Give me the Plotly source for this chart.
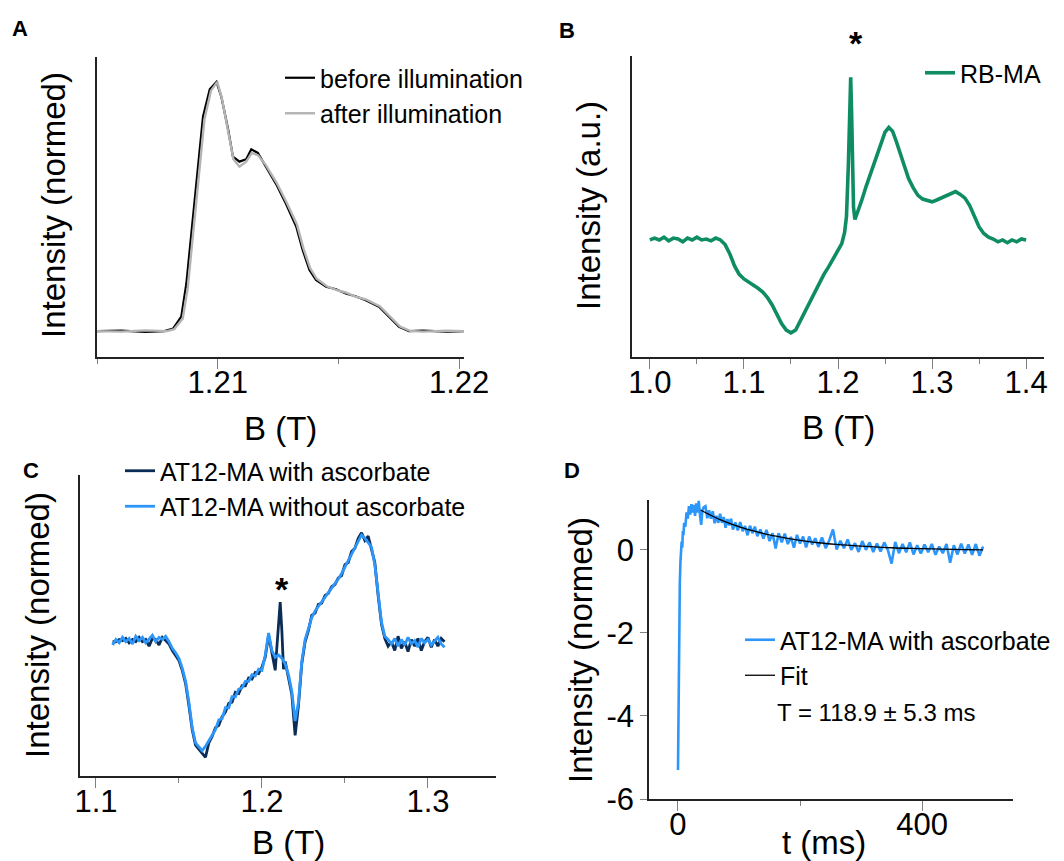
import plotly.graph_objects as go

# ---------------- Panel A data ----------------
a_before_x = [1.2050, 1.2060, 1.2070, 1.2078, 1.20815, 1.20849, 1.2087, 1.20891, 1.20912, 1.20939,
              1.20967, 1.20995, 1.21015, 1.21043, 1.21063, 1.2109, 1.21118, 1.21139, 1.21166, 1.2120,
              1.21242, 1.21283, 1.21325, 1.21352, 1.2138, 1.21407, 1.21449, 1.2149, 1.2153, 1.2157,
              1.21613, 1.21668, 1.2171, 1.21751, 1.21792, 1.2185, 1.2195, 1.2202]
a_before_y = [0.000, 0.002, -0.003, 0.000, 0.010, 0.058, 0.190, 0.390, 0.610, 0.860,
              0.970, 1.000, 0.940, 0.810, 0.700, 0.680, 0.690, 0.730, 0.715, 0.660,
              0.590, 0.510, 0.420, 0.325, 0.245, 0.205, 0.178, 0.168, 0.151, 0.140,
              0.124, 0.098, 0.058, 0.017, 0.000, 0.002, -0.002, 0.000]
a_after_x = [1.2050, 1.2060, 1.2070, 1.2079, 1.20820, 1.20855, 1.20876, 1.20897, 1.20918, 1.20945,
             1.20972, 1.20998, 1.21017, 1.21045, 1.21065, 1.2109, 1.21118, 1.21141, 1.21168, 1.2120,
             1.21244, 1.21286, 1.21328, 1.21355, 1.21383, 1.2141, 1.21452, 1.2149, 1.2153, 1.2157,
             1.21616, 1.21671, 1.21714, 1.21755, 1.21796, 1.2185, 1.2195, 1.2202]
a_after_y = [0.000, -0.002, 0.003, 0.000, 0.008, 0.050, 0.175, 0.375, 0.600, 0.850,
             0.965, 1.000, 0.935, 0.800, 0.690, 0.660, 0.680, 0.715, 0.705, 0.665,
             0.595, 0.515, 0.428, 0.332, 0.252, 0.210, 0.180, 0.165, 0.155, 0.138,
             0.126, 0.100, 0.060, 0.018, 0.001, -0.002, 0.002, 0.000]

# ---------------- Panel B data ----------------
b_x = [1.000, 1.005, 1.010, 1.015, 1.020, 1.025, 1.030, 1.035, 1.040, 1.045, 1.050, 1.055, 1.060,
       1.065, 1.070, 1.075, 1.080, 1.085, 1.090, 1.095, 1.100, 1.105, 1.110, 1.115, 1.120, 1.125,
       1.130, 1.135, 1.140, 1.145, 1.150, 1.155, 1.160, 1.165, 1.170, 1.175, 1.180, 1.185, 1.190,
       1.195, 1.200, 1.204, 1.207, 1.209, 1.211, 1.2125, 1.2135, 1.2145, 1.2155, 1.2165, 1.218,
       1.221, 1.225, 1.230, 1.235, 1.240, 1.245, 1.250, 1.254, 1.258, 1.262, 1.266, 1.270, 1.275,
       1.280, 1.285, 1.290, 1.295, 1.300, 1.305, 1.310, 1.315, 1.320, 1.325, 1.330, 1.335, 1.340,
       1.345, 1.350, 1.355, 1.360, 1.365, 1.370, 1.375, 1.380, 1.385, 1.390, 1.395, 1.400]
b_y = [0.00, 0.02, 0.00, 0.03, -0.01, 0.02, 0.01, -0.02, 0.02, 0.00, 0.03, 0.00, 0.01,
       -0.01, 0.02, 0.00, -0.05, -0.15, -0.28, -0.37, -0.42, -0.45, -0.48, -0.52, -0.56, -0.62,
       -0.70, -0.80, -0.90, -0.97, -1.00, -0.97, -0.87, -0.76, -0.66, -0.56, -0.46, -0.37, -0.29,
       -0.20, -0.11, -0.04, 0.08, 0.25, 0.80, 1.40, 1.75, 1.35, 0.70, 0.35, 0.22,
       0.30, 0.42, 0.58, 0.73, 0.88, 1.02, 1.16, 1.21, 1.17, 1.06, 0.93, 0.80, 0.66,
       0.56, 0.48, 0.44, 0.42, 0.41, 0.43, 0.45, 0.48, 0.50, 0.52, 0.49, 0.45, 0.37,
       0.25, 0.14, 0.07, 0.03, 0.01, -0.02, 0.00, -0.03, 0.00, -0.02, 0.01, 0.00]

# ---------------- Panel C data ----------------
c_without_x = [1.110, 1.112, 1.114, 1.116, 1.118, 1.120, 1.122, 1.124, 1.126, 1.128, 1.130, 1.132,
               1.134, 1.136, 1.138, 1.140, 1.142, 1.144, 1.146, 1.148, 1.150, 1.152, 1.154, 1.156,
               1.158, 1.160, 1.162, 1.164, 1.166, 1.168, 1.170, 1.172, 1.174, 1.176, 1.178, 1.180,
               1.182, 1.184, 1.186, 1.188, 1.190, 1.192, 1.194, 1.196, 1.198, 1.200, 1.202, 1.204,
               1.206, 1.208, 1.210, 1.212, 1.214, 1.216, 1.218, 1.220, 1.222, 1.224, 1.226, 1.228,
               1.230, 1.232, 1.234, 1.236, 1.238, 1.240, 1.242, 1.244, 1.246, 1.248, 1.250, 1.252,
               1.254, 1.256, 1.258, 1.260, 1.262, 1.264, 1.266, 1.268, 1.270, 1.272, 1.274, 1.276,
               1.278, 1.280, 1.282, 1.284, 1.286, 1.288, 1.290, 1.292, 1.294, 1.296, 1.298, 1.300,
               1.302, 1.304, 1.306, 1.308, 1.310]
c_without_y = [-0.03, 0.02, -0.01, 0.04, 0.00, 0.03, -0.02, 0.05, 0.01, 0.04, -0.01, 0.03,
               0.06, 0.00, 0.04, 0.02, 0.05, 0.00, -0.06, -0.10, -0.15, -0.24, -0.36, -0.55,
               -0.78, -0.92, -0.96, -0.99, -0.95, -0.90, -0.84, -0.80, -0.71, -0.70, -0.60, -0.60,
               -0.50, -0.50, -0.43, -0.42, -0.36, -0.36, -0.30, -0.31, -0.25, -0.26, -0.12, 0.08,
               -0.08, -0.14, -0.12, -0.15, -0.20, -0.30, -0.45, -0.72, -0.55, -0.18, 0.02, 0.12,
               0.22, 0.28, 0.32, 0.36, 0.40, 0.45, 0.48, 0.53, 0.57, 0.62, 0.68, 0.73,
               0.80, 0.86, 0.92, 0.97, 0.94, 0.90, 0.86, 0.70, 0.45, 0.18, 0.05, 0.02,
               -0.02, 0.03, -0.04, 0.02, -0.03, 0.04, -0.02, 0.01, -0.05, 0.03, -0.01, 0.02,
               -0.03, 0.01, 0.04, -0.02, -0.05]
c_with_x = [1.110, 1.112, 1.114, 1.116, 1.118, 1.120, 1.122, 1.124, 1.126, 1.128, 1.130, 1.132,
            1.134, 1.136, 1.138, 1.140, 1.142, 1.144, 1.146, 1.148, 1.150, 1.152, 1.154, 1.156,
            1.158, 1.160, 1.162, 1.164, 1.166, 1.168, 1.170, 1.172, 1.174, 1.176, 1.178, 1.180,
            1.182, 1.184, 1.186, 1.188, 1.190, 1.192, 1.194, 1.196, 1.198, 1.200, 1.202, 1.204,
            1.206, 1.208, 1.209, 1.210, 1.211, 1.212, 1.213, 1.214, 1.216, 1.218, 1.220, 1.222,
            1.224, 1.226, 1.228, 1.230, 1.232, 1.234, 1.236, 1.238, 1.240, 1.242, 1.244, 1.246,
            1.248, 1.250, 1.252, 1.254, 1.256, 1.258, 1.260, 1.262, 1.264, 1.266, 1.268, 1.270,
            1.272, 1.274, 1.276, 1.278, 1.280, 1.282, 1.284, 1.286, 1.288, 1.290, 1.292, 1.294,
            1.296, 1.298, 1.300, 1.302, 1.304, 1.306, 1.308, 1.310]
c_with_y = [0.00, 0.00, 0.02, 0.01, 0.03, -0.01, 0.02, 0.00, 0.04, 0.00, 0.02, -0.04,
            0.03, 0.02, -0.03, 0.04, 0.01, -0.02, -0.08, -0.12, -0.17, -0.26, -0.38, -0.58,
            -0.80, -0.94, -0.98, -1.01, -1.05, -0.92, -0.86, -0.78, -0.76, -0.68, -0.64, -0.56,
            -0.55, -0.46, -0.47, -0.40, -0.40, -0.33, -0.34, -0.28, -0.29, -0.23, -0.14, 0.06,
            -0.10, -0.26, -0.05, 0.20, 0.36, 0.10, -0.25, -0.18, -0.32, -0.48, -0.85, -0.58,
            -0.20, 0.00, 0.10, 0.24, 0.26, 0.34, 0.35, 0.42, 0.44, 0.50, 0.52, 0.58,
            0.60, 0.70, 0.72, 0.82, 0.85, 0.94, 0.99, 0.92, 0.96, 0.84, 0.72, 0.42,
            0.16, 0.03, -0.04, 0.00, -0.08, 0.05, -0.06, 0.00, -0.09, 0.02, -0.04, 0.03,
            -0.08, 0.00, 0.04, -0.05, 0.02, -0.04, 0.03, 0.00]

# ---------------- Panel D data ----------------
d_t = [0, 1, 2, 3, 4, 5, 6, 7, 8, 9, 10, 12, 14, 16, 18, 20, 22, 24, 26, 28, 30, 32, 34, 36, 38,
       40, 42, 45, 48, 51, 54, 57, 60, 63, 66, 69, 72, 75, 78, 81, 84, 87, 90, 94, 98, 102, 106,
       110, 114, 118, 122, 126, 130, 135, 140, 145, 150, 155, 160, 165, 170, 175, 180, 185, 190,
       195, 200, 205, 210, 215, 220, 225, 230, 236, 242, 248, 254, 260, 266, 272, 278, 284, 290,
       296, 302, 308, 314, 320, 326, 332, 338, 344, 350, 356, 362, 368, 374, 380, 386, 392, 398,
       404, 410, 416, 422, 428, 434, 440, 446, 452, 458, 464, 470, 476, 482, 488, 494, 500]
d_y = [-5.3, -3.4, -1.6, -0.8, -0.3, -0.1, 0.2, 0.05, 0.45, 0.35, 0.65, 0.55, 0.9, 0.75, 1.05,
       0.85, 1.1, 0.9, 1.08, 0.82, 1.12, 0.9, 1.18, 0.85, 0.6, 0.95, 1.02, 1.05, 0.76, 0.95, 0.75,
       0.93, 0.64, 0.82, 0.65, 0.87, 0.65, 0.79, 0.53, 0.74, 0.59, 0.75, 0.49, 0.66, 0.47, 0.67,
       0.45, 0.57, 0.35, 0.58, 0.40, 0.56, 0.33, 0.49, 0.27, 0.48, 0.21, 0.40, 0.03, 0.40, 0.18,
       0.39, 0.14, 0.31, 0.05, 0.36, 0.15, 0.32, 0.06, 0.32, 0.13, 0.28, 0.07, 0.30, 0.04, 0.23,
       0.49, 0.01, 0.22, 0.04, 0.25, 0.00, 0.16, -0.05, 0.21, 0.00, 0.18, -0.05, 0.15, -0.04,
       0.18, -0.01, -0.33, 0.19, -0.08, 0.14, -0.06, 0.18, -0.11, 0.11, -0.09, 0.13, -0.06, 0.14,
       -0.12, 0.08, -0.08, 0.14, -0.31, 0.11, -0.11, 0.15, -0.09, 0.13, -0.12, 0.14, -0.14, 0.08]
fit_t = [37, 50, 70, 90, 110, 130, 150, 175, 200, 230, 260, 300, 350, 400, 450, 500]
fit_y = [0.96, 0.86, 0.72, 0.61, 0.51, 0.43, 0.36, 0.29, 0.23, 0.17, 0.13, 0.09, 0.05, 0.03, 0.01, 0.00]
d_ytick_vals = [0, -2, -4, -6]
d_ytick_text = ["0", "-2", "-4", "-6"]

# The page body has an 8 px margin, so the figure starts at (8, 8) in the window.
OFF = 8
W, H = 1056, 853
FONT = "Liberation Sans, Arial, sans-serif"
BLACK = "#000000"
GRAY = "#b4b4b4"
GREEN = "#0e8c63"
NAVY = "#0b2d55"
LIGHT = "#2d96fa"


def px(x):
    return (x - OFF) / W


def py(y):
    return 1 - (y - OFF) / H


fig = go.Figure()

fig.add_trace(go.Scatter(x=a_before_x, y=a_before_y, mode="lines", name="before illumination",
                         line=dict(color=BLACK, width=2.2), xaxis="x", yaxis="y", legend="legend"))
fig.add_trace(go.Scatter(x=a_after_x, y=a_after_y, mode="lines", name="after illumination",
                         line=dict(color=GRAY, width=2.4), xaxis="x", yaxis="y", legend="legend"))
fig.add_trace(go.Scatter(x=b_x, y=b_y, mode="lines", name="RB-MA",
                         line=dict(color=GREEN, width=3.6), xaxis="x2", yaxis="y2", legend="legend2"))
fig.add_trace(go.Scatter(x=c_with_x, y=c_with_y, mode="lines", name="AT12-MA with ascorbate",
                         line=dict(color=NAVY, width=2.8), xaxis="x3", yaxis="y3", legend="legend3"))
fig.add_trace(go.Scatter(x=c_without_x, y=c_without_y, mode="lines", name="AT12-MA without ascorbate",
                         line=dict(color=LIGHT, width=2.8), xaxis="x3", yaxis="y3", legend="legend3"))
fig.add_trace(go.Scatter(x=d_t, y=d_y, mode="lines", name="AT12-MA with ascorbate",
                         line=dict(color=LIGHT, width=2.6), xaxis="x4", yaxis="y4", legend="legend4"))
fig.add_trace(go.Scatter(x=fit_t, y=fit_y, mode="lines", name="Fit", line_shape="spline",
                         line=dict(color=BLACK, width=1.3), xaxis="x4", yaxis="y4", legend="legend4"))

tickfont = dict(family=FONT, size=31, color="#000")
titlefont = dict(family=FONT, size=33, color="#000")


def xaxis(domain, rng, anchor, tick0, dtick, minor_tick0, minor_dtick, fmt=None, tickvals=None):
    d = dict(domain=domain, range=rng, anchor=anchor, showline=True, linecolor="#222", linewidth=1.6,
             ticks="outside", ticklen=10, tickwidth=1.3, tickcolor="#808080", showgrid=False,
             zeroline=False, tickfont=tickfont, automargin=False, ticklabelstandoff=-13,
             minor=dict(dtick=minor_dtick, tick0=minor_tick0, ticks="outside", ticklen=5, tickwidth=1.3,
                        tickcolor="#808080", showgrid=False))
    if tickvals is not None:
        d["tickvals"] = tickvals
    else:
        d["dtick"] = dtick
        d["tick0"] = tick0
    if fmt:
        d["tickformat"] = fmt
    return d


def yaxis_blank(domain, rng, anchor):
    return dict(domain=domain, range=rng, anchor=anchor, showline=True, linecolor="#222", linewidth=1.6,
                ticks="", showticklabels=False, showgrid=False, zeroline=False, automargin=False)


layout = dict(
    width=W, height=H, margin=dict(l=0, r=0, t=0, b=0, autoexpand=False),
    paper_bgcolor="white", plot_bgcolor="white", showlegend=True,
    font=dict(family=FONT, color="#000"),
    xaxis=xaxis([px(97), px(464)], [1.205, 1.2202], "y", 1.21, 0.01, 1.205, 0.005, ".2f"),
    yaxis=yaxis_blank([py(357), py(57)], [-0.104, 1.10], "x"),
    xaxis2=xaxis([px(632), px(1044)], [0.981, 1.419], "y2", 1.0, 0.1, 1.0, 0.05, ".1f"),
    yaxis2=yaxis_blank([py(357), py(56)], [-1.26, 1.98], "x2"),
    xaxis3=xaxis([px(80), px(496)], [1.0904, 1.341], "y3", 1.1, 0.1, 1.1, 0.05, ".1f"),
    yaxis3=yaxis_blank([py(776), py(475)], [-1.22, 1.515], "x3"),
    xaxis4=xaxis([px(649), px(1013)], [-47.5, 549], "y4", 0, None, 0, 200, None, tickvals=[0, 400]),
    yaxis4=dict(domain=[py(799), py(500)], range=[-6, 1.2], anchor="x4", showline=True, linecolor="#222",
                linewidth=1.6, ticks="outside", ticklen=7, tickwidth=1.3, tickcolor="#808080",
                tickvals=d_ytick_vals, ticktext=d_ytick_text, tickfont=tickfont, showgrid=False,
                zeroline=False, automargin=False),
)

legend_common = dict(font=dict(family=FONT, size=25, color="#000"), bgcolor="rgba(0,0,0,0)",
                     xanchor="left", yanchor="top", tracegroupgap=0, itemclick=False,
                     xref="container", yref="container")
# (text left edge, first item centre) in window pixels
for name, tx, cy in [("legend", 320, 80), ("legend2", 960, 75), ("legend3", 160, 473), ("legend4", 780, 642)]:
    layout[name] = dict(x=px(tx - 40), y=py(cy - 25), **legend_common)

fig.update_layout(**layout)


def paper_text(text, x, y, font, angle=0, xanchor="center"):
    fig.add_annotation(text=text, x=px(x), y=py(y), xref="paper", yref="paper", xanchor=xanchor,
                       yanchor="middle", showarrow=False, font=font, textangle=angle)


# axis titles
for text, x, y in [("B (T)", 280, 429), ("B (T)", 838, 427), ("B (T)", 288, 842), ("t (ms)", 824, 842)]:
    paper_text(text, x, y, titlefont)
for text, x, y in [("Intensity (normed)", 53, 205), ("Intensity (a.u.)", 588, 206),
                   ("Intensity (normed)", 37, 625), ("Intensity (normed)", 580, 650)]:
    paper_text(text, x, y, titlefont, angle=-90)

# panel letters
letter_font = dict(family=FONT, size=22, color="#000")
for txt, x, y in [("<b>A</b>", 10, 28), ("<b>B</b>", 557, 30), ("<b>C</b>", 21, 470), ("<b>D</b>", 562, 470)]:
    paper_text(txt, x, y, letter_font, xanchor="left")

star_font = dict(family=FONT, size=34, color="#000")
paper_text("<b>*</b>", 856, 43, star_font)
paper_text("<b>*</b>", 282, 589, star_font)
paper_text("T = 118.9 ± 5.3 ms", 775, 712, dict(family=FONT, size=24, color="#000"), xanchor="left")

fig.write_html("out.html")
